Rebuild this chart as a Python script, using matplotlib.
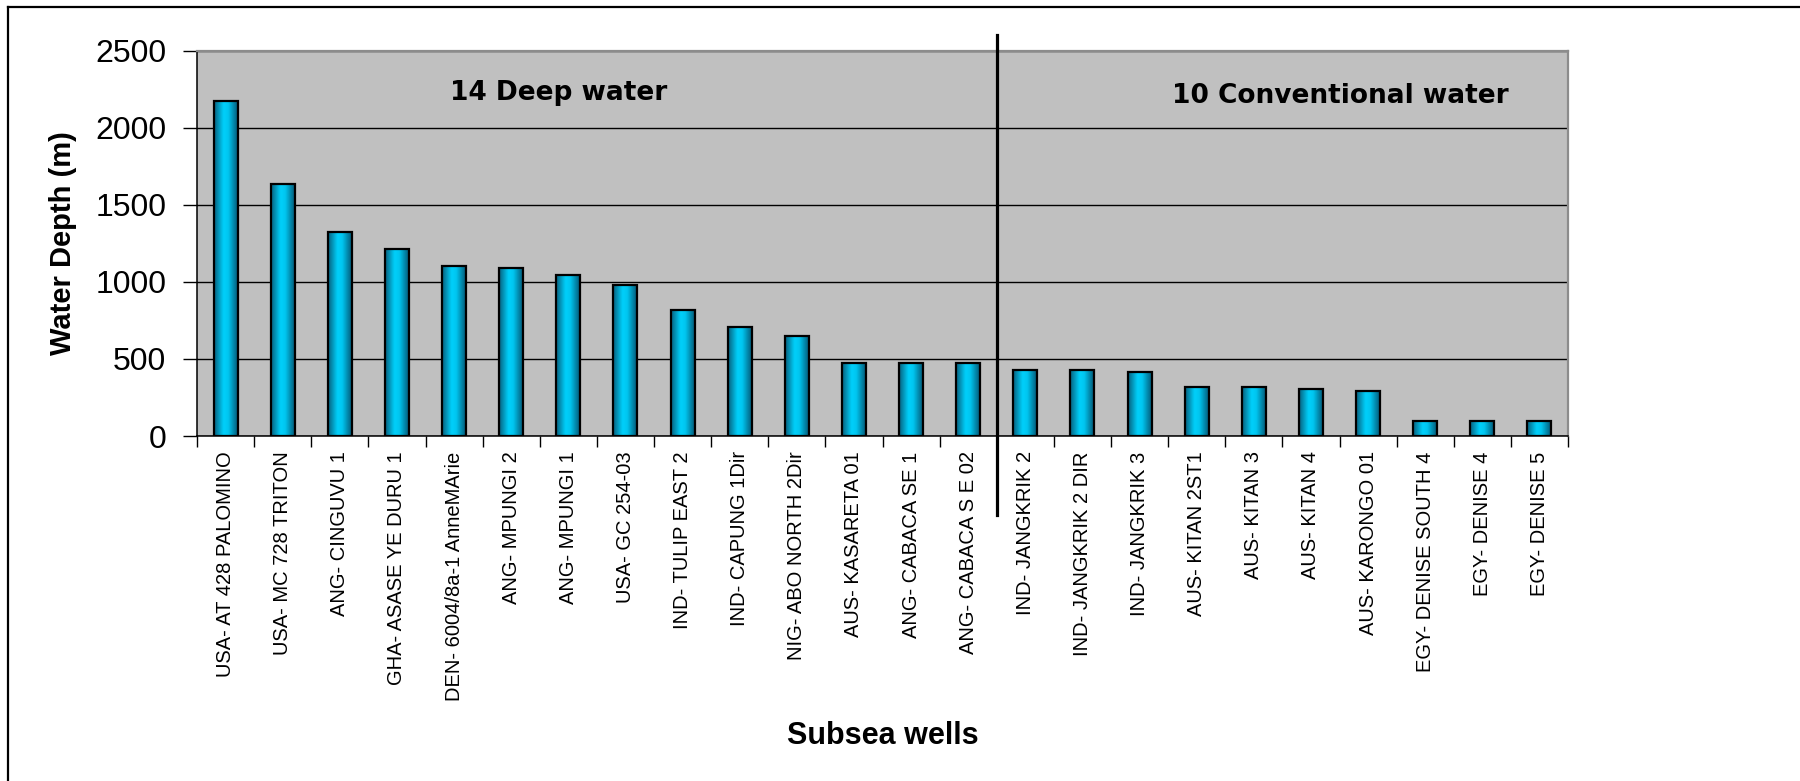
import numpy as np
import matplotlib
matplotlib.use("Agg")
from matplotlib import pyplot as plt
from matplotlib.colors import LinearSegmentedColormap
from matplotlib.lines import Line2D
import matplotlib.transforms as mtransforms

# datos: pozos submarinos y profundidad de agua (m)
deep_wells = ["USA- AT 428 PALOMINO", "USA- MC 728 TRITON", "ANG- CINGUVU 1",
              "GHA- ASASE YE DURU 1", "DEN- 6004/8a-1 AnneMArie", "ANG- MPUNGI 2",
              "ANG- MPUNGI 1", "USA- GC 254-03", "IND- TULIP EAST 2",
              "IND- CAPUNG 1Dir", "NIG- ABO NORTH 2Dir", "AUS- KASARETA 01",
              "ANG- CABACA SE 1", "ANG- CABACA S E 02"]
deep_depth = [2173, 1636, 1320, 1212, 1102, 1091, 1041, 978, 815, 706, 646, 474, 474, 474]

conv_wells = ["IND- JANGKRIK 2", "IND- JANGKRIK 2 DIR", "IND- JANGKRIK 3",
              "AUS- KITAN 2ST1", "AUS- KITAN 3", "AUS- KITAN 4", "AUS- KARONGO 01",
              "EGY- DENISE SOUTH 4", "EGY- DENISE 4", "EGY- DENISE 5"]
conv_depth = [426, 426, 417, 317, 317, 306, 293, 96, 96, 96]

y_ticks = [0, 500, 1000, 1500, 2000, 2500]

wells = deep_wells + conv_wells
depth = deep_depth + conv_depth
x = np.arange(len(wells))

plt.rcParams['font.family'] = ['Liberation Sans', 'DejaVu Sans']

fig = plt.figure(figsize=(18, 7.81), dpi=100)
ax = fig.add_axes([197/1800, 1-436/781, (1568-197)/1800, (436-50.5)/781])
ax.set_facecolor('#c0c0c0')

# barras con degradado
cmap = LinearSegmentedColormap.from_list("barra", [(0, '#07617f'), (0.4, '#00d0fb'),
                                                    (0.6, '#00c6f0'), (1, '#045a78')])
grad = np.linspace(0, 1, 64).reshape(1, -1)
bars = ax.bar(x, depth, width=0.42, color='none', edgecolor='black', linewidth=1.6, zorder=3)
for b in bars:
    x0, w, h = b.get_x(), b.get_width(), b.get_height()
    ax.imshow(grad, extent=[x0, x0 + w, 0, h], aspect='auto', cmap=cmap, zorder=2.9,
              interpolation='bicubic')

ax.set_xlim(-0.5, len(wells) - 0.5)
ax.set_ylim(0, 2500)
ax.set_yticks(y_ticks)
ax.yaxis.grid(True, color='black', linewidth=1.0)
ax.set_axisbelow(True)

ax.set_xticks(x)
ax.set_xticklabels(wells, rotation=90, fontsize=14.5, va='top')
ax.set_xticks(np.arange(len(wells) + 1) - 0.5, minor=True)
ax.tick_params(axis='x', which='major', length=0, pad=11)
ax.tick_params(axis='x', which='minor', length=8, width=1, direction='out')
ax.tick_params(axis='y', length=10, width=1, direction='out', labelsize=23, pad=12)

for s in ['left', 'bottom']:
    ax.spines[s].set_color('black')
    ax.spines[s].set_linewidth(1.1)
for s in ['top', 'right']:
    ax.spines[s].set_color('#8c8c8c')
    ax.spines[s].set_linewidth(1.6)

ax.set_ylabel("Water Depth (m)", fontsize=21, fontweight='bold', va='center')
ax.yaxis.set_label_coords(-0.0977, 0.5)
ax.set_xlabel("Subsea wells", fontsize=22, fontweight='bold', va='center')
ax.xaxis.set_label_coords(0.5, -0.778)

# linea que separa aguas profundas de convencionales
trans = mtransforms.blended_transform_factory(ax.transData, ax.transAxes)
sep = len(deep_wells) - 0.5
ax.plot([sep, sep], [-0.205, 1.04], color='black', linewidth=2.3, transform=trans,
        clip_on=False, zorder=5)

ax.text(0.264, 0.89, "%d Deep water" % len(deep_wells), transform=ax.transAxes,
        ha='center', va='center', fontsize=19, fontweight='bold', family='DejaVu Sans')
ax.text(0.834, 0.883, "%d Conventional water" % len(conv_wells), transform=ax.transAxes,
        ha='center', va='center', fontsize=19, fontweight='bold', family='DejaVu Sans')

# marco de la figura
fig.add_artist(Line2D([8/1800, 1], [1-7/781, 1-7/781], color='black', linewidth=1.6))
fig.add_artist(Line2D([8/1800, 8/1800], [0, 1-7/781], color='black', linewidth=1.6))

fig.savefig("out.png", dpi=100)
